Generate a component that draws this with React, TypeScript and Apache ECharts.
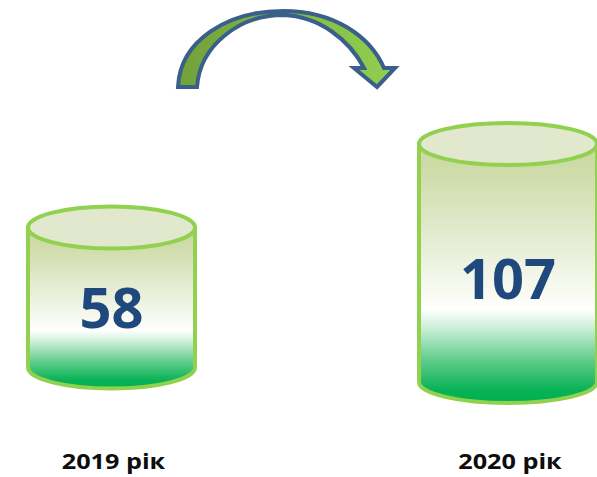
import React, { useEffect, useRef } from "react";
import * as echarts from "echarts";

// ---- data ----
const categories = ["2019 рік", "2020 рік"];
const values = [58, 107];
const axisMin = -12;
const axisMax = 120;

// ---- decoration: curved arrow (absolute pixel path) ----
const arrowPath =
  "M178 87 C180 40 228 11 283 11 C334 11 370 36 384 68 " +
  "L395 68 L377 87 L354 68 L364 68 " +
  "C350 41 320 16 283 15 C240 15 200 45 197 87 Z";

echarts.graphic.registerShape("curvedArrow", echarts.graphic.extendPath(arrowPath, {}));

const RY = 21;

function makeRenderItem(idx: number) {
  return (params: any, api: any) => {
    const top = api.coord([api.value(0), api.value(1)]);
    const base = api.coord([api.value(0), axisMin]);
    const band = api.size([1, 0])[0];
    const cx = top[0];
    const rx = band / 2;
    const topY = top[1];
    const botY = base[1];
    const left = cx - rx;
    const right = cx + rx;
    const bodyD = `M${left},${topY} L${left},${botY} A${rx},${RY} 0 0 0 ${right},${botY} L${right},${topY} Z`;
    const ellD = `M${left},${topY} A${rx},${RY} 0 1 0 ${right},${topY} A${rx},${RY} 0 1 0 ${left},${topY} Z`;
    const bodyFill = new echarts.graphic.LinearGradient(0, 0, 0, 1, [
      { offset: 0, color: "#c9d89f" },
      { offset: 0.13, color: "#d0ddac" },
      { offset: 0.4, color: "#e8eed8" },
      { offset: 0.58, color: "#f9fbf4" },
      { offset: 0.64, color: "#ffffff" },
      { offset: 0.72, color: "#c2ecd2" },
      { offset: 0.84, color: "#5ccb88" },
      { offset: 0.95, color: "#08b256" },
      { offset: 1, color: "#00b050" },
    ]);
    return {
      type: "group",
      children: [
        {
          type: "path",
          shape: { pathData: bodyD },
          style: { fill: bodyFill, stroke: "#92d050", lineWidth: 4 },
        },
        {
          type: "path",
          shape: { pathData: ellD },
          style: { fill: "#e1e8cd", stroke: "#92d050", lineWidth: 4 },
        },
        {
          type: "text",
          x: cx,
          y: topY + 0.56 * (botY - topY),
          style: {
            text: String(api.value(1)),
            fill: "#1f497d",
            fontSize: 56,
            fontWeight: "bold",
            fontFamily: "Open Sans",
            align: "center",
            verticalAlign: "middle",
          },
        },
        {
          type: "text",
          x: cx + 2,
          y: 461,
          scaleX: 1.2,
          style: {
            text: categories[idx],
            fill: "#0d0d0d",
            fontSize: 21,
            fontWeight: "bold",
            fontFamily: "Open Sans",
            align: "center",
            verticalAlign: "middle",
          },
        },
      ],
    };
  };
}

export default function App() {
  const ref = useRef<HTMLDivElement>(null);
  useEffect(() => {
    document.body.style.margin = "0";
    const chart = echarts.init(ref.current!, null, { renderer: "svg" });
    chart.setOption({
      animation: false,
      backgroundColor: "#ffffff",
      grid: [
        { left: 28, top: 103.5, width: 167, height: 264 },
        { left: 419, top: 118, width: 186, height: 264 },
      ],
      xAxis: categories.map((c, i) => ({
        type: "category",
        gridIndex: i,
        data: [c],
        show: false,
      })),
      yAxis: categories.map((_, i) => ({
        type: "value",
        gridIndex: i,
        min: axisMin,
        max: axisMax,
        show: false,
      })),
      graphic: [
        {
          type: "curvedArrow",
          x: 0,
          y: 0,
          z: 10,
          style: {
            fill: {
              type: "linear",
              x: 0,
              y: 0,
              x2: 1,
              y2: 0,
              colorStops: [
                { offset: 0, color: "#72a03a" },
                { offset: 0.5, color: "#80b842" },
                { offset: 1, color: "#92d050" },
              ],
            },
            stroke: "#3a5f8b",
            lineWidth: 4,
          },
        },
      ],
      series: categories.map((c, i) => ({
        type: "custom",
        xAxisIndex: i,
        yAxisIndex: i,
        clip: false,
        data: [[c, values[i]]],
        renderItem: makeRenderItem(i),
      })),
    });
    return () => chart.dispose();
  }, []);
  return <div ref={ref} style={{ width: 597, height: 477 }} />;
}
